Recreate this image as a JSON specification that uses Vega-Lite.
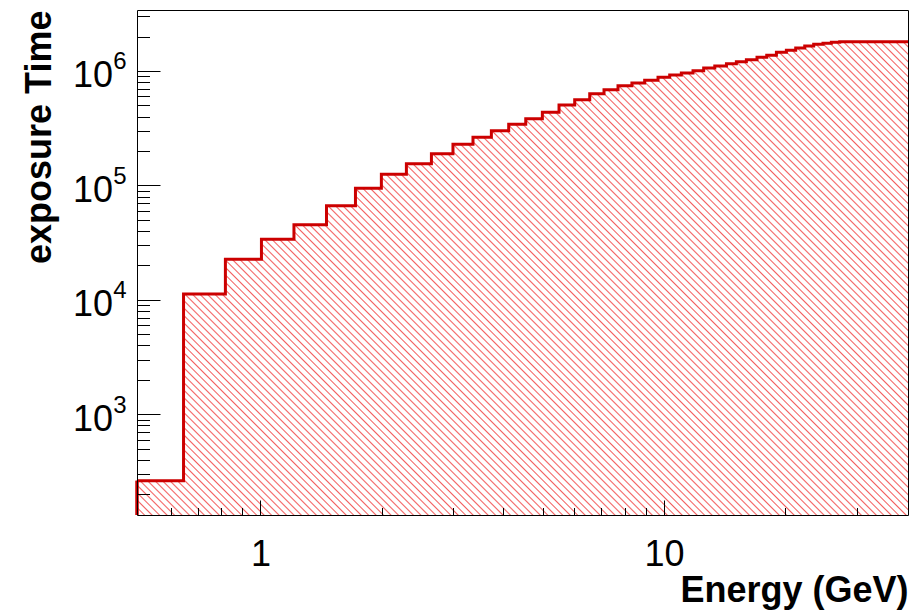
{
"$schema":"https://vega.github.io/schema/vega-lite/v6.json",
"width":771,"height":505,
"autosize":"none",
"padding":{"left":137,"top":10,"right":10,"bottom":96},
"background":"white",
"config":{"view":{"stroke":null},"axis":{"grid":false,"domain":false,"domainColor":"#000000","domainWidth":1,"tickColor":"#000000","tickWidth":1,"labelColor":"#000000","titleColor":"#000000","labelFont":"Liberation Sans","titleFont":"Liberation Sans","labelFlush":false,"labelOverlap":false,"labelBound":false,"zindex":1}},
"data":{"values":[
{"lo":0.4946,"hi":0.645,"v":262.9},
{"lo":0.645,"hi":0.819,"v":11250},
{"lo":0.819,"hi":1.006,"v":22620},
{"lo":1.006,"hi":1.211,"v":33830},
{"lo":1.211,"hi":1.458,"v":45370},
{"lo":1.458,"hi":1.72,"v":66520},
{"lo":1.72,"hi":1.994,"v":94390},
{"lo":1.994,"hi":2.3,"v":125130},
{"lo":2.3,"hi":2.653,"v":154850},
{"lo":2.653,"hi":3.0,"v":189370},
{"lo":3.0,"hi":3.363,"v":228800},
{"lo":3.363,"hi":3.735,"v":263400},
{"lo":3.735,"hi":4.123,"v":300900},
{"lo":4.123,"hi":4.544,"v":342100},
{"lo":4.544,"hi":4.996,"v":383100},
{"lo":4.996,"hi":5.494,"v":435600},
{"lo":5.494,"hi":6.008,"v":504700},
{"lo":6.008,"hi":6.546,"v":561500},
{"lo":6.546,"hi":7.102,"v":633400},
{"lo":7.102,"hi":7.692,"v":686500},
{"lo":7.692,"hi":8.327,"v":743900},
{"lo":8.327,"hi":8.956,"v":785700},
{"lo":8.956,"hi":9.664,"v":829100},
{"lo":9.664,"hi":10.33,"v":881000},
{"lo":10.33,"hi":11.04,"v":922600},
{"lo":11.04,"hi":11.8,"v":960500},
{"lo":11.8,"hi":12.54,"v":1006000},
{"lo":12.54,"hi":13.36,"v":1062000},
{"lo":13.36,"hi":14.28,"v":1106000},
{"lo":14.28,"hi":15.11,"v":1158000},
{"lo":15.11,"hi":16.0,"v":1206000},
{"lo":16.0,"hi":17.0,"v":1255000},
{"lo":17.0,"hi":17.97,"v":1317000},
{"lo":17.97,"hi":18.99,"v":1372000},
{"lo":18.99,"hi":20.1,"v":1457000},
{"lo":20.1,"hi":21.2,"v":1517000},
{"lo":21.2,"hi":22.32,"v":1589000},
{"lo":22.32,"hi":23.49,"v":1654000},
{"lo":23.49,"hi":24.77,"v":1711000},
{"lo":24.77,"hi":25.98,"v":1746000},
{"lo":25.98,"hi":27.25,"v":1781000},
{"lo":27.25,"hi":40.23,"v":1803000}
]},
"resolve":{"axis":{"x":"independent","y":"independent"}},
"layer":[
{
"transform":[{"fold":["lo","hi"],"as":["edge","E"]}],
"mark":{"type":"area","clip":true,"opacity":1,"fill":{"gradient":"linear","x1":0,"y1":1,"x2":1.17213,"y2":0.28042,"stops":[
{"offset":0,"color":"#fff"},
{"offset":0.0048,"color":"#fff"},{"offset":0.006,"color":"#f36060"},{"offset":0.0072,"color":"#fff"},
{"offset":0.0108,"color":"#fff"},{"offset":0.012,"color":"#f36060"},{"offset":0.0132,"color":"#fff"},
{"offset":0.0168,"color":"#fff"},{"offset":0.018,"color":"#f36060"},{"offset":0.0192,"color":"#fff"},
{"offset":0.0228,"color":"#fff"},{"offset":0.024,"color":"#f36060"},{"offset":0.0252,"color":"#fff"},
{"offset":0.0288,"color":"#fff"},{"offset":0.03,"color":"#f36060"},{"offset":0.0312,"color":"#fff"},
{"offset":0.0348,"color":"#fff"},{"offset":0.036,"color":"#f36060"},{"offset":0.0372,"color":"#fff"},
{"offset":0.0408,"color":"#fff"},{"offset":0.042,"color":"#f36060"},{"offset":0.0432,"color":"#fff"},
{"offset":0.0468,"color":"#fff"},{"offset":0.048,"color":"#f36060"},{"offset":0.0492,"color":"#fff"},
{"offset":0.0528,"color":"#fff"},{"offset":0.054,"color":"#f36060"},{"offset":0.0552,"color":"#fff"},
{"offset":0.0588,"color":"#fff"},{"offset":0.06,"color":"#f36060"},{"offset":0.0612,"color":"#fff"},
{"offset":0.0648,"color":"#fff"},{"offset":0.066,"color":"#f36060"},{"offset":0.0672,"color":"#fff"},
{"offset":0.0708,"color":"#fff"},{"offset":0.072,"color":"#f36060"},{"offset":0.0732,"color":"#fff"},
{"offset":0.0768,"color":"#fff"},{"offset":0.078,"color":"#f36060"},{"offset":0.0792,"color":"#fff"},
{"offset":0.0828,"color":"#fff"},{"offset":0.084,"color":"#f36060"},{"offset":0.0852,"color":"#fff"},
{"offset":0.0888,"color":"#fff"},{"offset":0.09,"color":"#f36060"},{"offset":0.0912,"color":"#fff"},
{"offset":0.0948,"color":"#fff"},{"offset":0.096,"color":"#f36060"},{"offset":0.0972,"color":"#fff"},
{"offset":0.1008,"color":"#fff"},{"offset":0.102,"color":"#f36060"},{"offset":0.1032,"color":"#fff"},
{"offset":0.1068,"color":"#fff"},{"offset":0.108,"color":"#f36060"},{"offset":0.1092,"color":"#fff"},
{"offset":0.1128,"color":"#fff"},{"offset":0.114,"color":"#f36060"},{"offset":0.1152,"color":"#fff"},
{"offset":0.1188,"color":"#fff"},{"offset":0.12,"color":"#f36060"},{"offset":0.1212,"color":"#fff"},
{"offset":0.1248,"color":"#fff"},{"offset":0.126,"color":"#f36060"},{"offset":0.1272,"color":"#fff"},
{"offset":0.1308,"color":"#fff"},{"offset":0.132,"color":"#f36060"},{"offset":0.1332,"color":"#fff"},
{"offset":0.1368,"color":"#fff"},{"offset":0.138,"color":"#f36060"},{"offset":0.1392,"color":"#fff"},
{"offset":0.1428,"color":"#fff"},{"offset":0.144,"color":"#f36060"},{"offset":0.1452,"color":"#fff"},
{"offset":0.1488,"color":"#fff"},{"offset":0.15,"color":"#f36060"},{"offset":0.1512,"color":"#fff"},
{"offset":0.1548,"color":"#fff"},{"offset":0.156,"color":"#f36060"},{"offset":0.1572,"color":"#fff"},
{"offset":0.1608,"color":"#fff"},{"offset":0.162,"color":"#f36060"},{"offset":0.1632,"color":"#fff"},
{"offset":0.1668,"color":"#fff"},{"offset":0.168,"color":"#f36060"},{"offset":0.1692,"color":"#fff"},
{"offset":0.1728,"color":"#fff"},{"offset":0.174,"color":"#f36060"},{"offset":0.1752,"color":"#fff"},
{"offset":0.1788,"color":"#fff"},{"offset":0.18,"color":"#f36060"},{"offset":0.1812,"color":"#fff"},
{"offset":0.1848,"color":"#fff"},{"offset":0.186,"color":"#f36060"},{"offset":0.1872,"color":"#fff"},
{"offset":0.1908,"color":"#fff"},{"offset":0.192,"color":"#f36060"},{"offset":0.1932,"color":"#fff"},
{"offset":0.1968,"color":"#fff"},{"offset":0.198,"color":"#f36060"},{"offset":0.1992,"color":"#fff"},
{"offset":0.2028,"color":"#fff"},{"offset":0.204,"color":"#f36060"},{"offset":0.2052,"color":"#fff"},
{"offset":0.2088,"color":"#fff"},{"offset":0.21,"color":"#f36060"},{"offset":0.2112,"color":"#fff"},
{"offset":0.2148,"color":"#fff"},{"offset":0.216,"color":"#f36060"},{"offset":0.2172,"color":"#fff"},
{"offset":0.2208,"color":"#fff"},{"offset":0.222,"color":"#f36060"},{"offset":0.2232,"color":"#fff"},
{"offset":0.2268,"color":"#fff"},{"offset":0.228,"color":"#f36060"},{"offset":0.2292,"color":"#fff"},
{"offset":0.2328,"color":"#fff"},{"offset":0.234,"color":"#f36060"},{"offset":0.2352,"color":"#fff"},
{"offset":0.2388,"color":"#fff"},{"offset":0.24,"color":"#f36060"},{"offset":0.2412,"color":"#fff"},
{"offset":0.2448,"color":"#fff"},{"offset":0.246,"color":"#f36060"},{"offset":0.2472,"color":"#fff"},
{"offset":0.2508,"color":"#fff"},{"offset":0.252,"color":"#f36060"},{"offset":0.2532,"color":"#fff"},
{"offset":0.2568,"color":"#fff"},{"offset":0.258,"color":"#f36060"},{"offset":0.2592,"color":"#fff"},
{"offset":0.2628,"color":"#fff"},{"offset":0.264,"color":"#f36060"},{"offset":0.2652,"color":"#fff"},
{"offset":0.2688,"color":"#fff"},{"offset":0.27,"color":"#f36060"},{"offset":0.2712,"color":"#fff"},
{"offset":0.2748,"color":"#fff"},{"offset":0.276,"color":"#f36060"},{"offset":0.2772,"color":"#fff"},
{"offset":0.2808,"color":"#fff"},{"offset":0.282,"color":"#f36060"},{"offset":0.2832,"color":"#fff"},
{"offset":0.2868,"color":"#fff"},{"offset":0.288,"color":"#f36060"},{"offset":0.2892,"color":"#fff"},
{"offset":0.2928,"color":"#fff"},{"offset":0.294,"color":"#f36060"},{"offset":0.2952,"color":"#fff"},
{"offset":0.2988,"color":"#fff"},{"offset":0.3,"color":"#f36060"},{"offset":0.3012,"color":"#fff"},
{"offset":0.3048,"color":"#fff"},{"offset":0.306,"color":"#f36060"},{"offset":0.3072,"color":"#fff"},
{"offset":0.3108,"color":"#fff"},{"offset":0.312,"color":"#f36060"},{"offset":0.3132,"color":"#fff"},
{"offset":0.3168,"color":"#fff"},{"offset":0.318,"color":"#f36060"},{"offset":0.3192,"color":"#fff"},
{"offset":0.3228,"color":"#fff"},{"offset":0.324,"color":"#f36060"},{"offset":0.3252,"color":"#fff"},
{"offset":0.3288,"color":"#fff"},{"offset":0.33,"color":"#f36060"},{"offset":0.3312,"color":"#fff"},
{"offset":0.3348,"color":"#fff"},{"offset":0.336,"color":"#f36060"},{"offset":0.3372,"color":"#fff"},
{"offset":0.3408,"color":"#fff"},{"offset":0.342,"color":"#f36060"},{"offset":0.3432,"color":"#fff"},
{"offset":0.3468,"color":"#fff"},{"offset":0.348,"color":"#f36060"},{"offset":0.3492,"color":"#fff"},
{"offset":0.3528,"color":"#fff"},{"offset":0.354,"color":"#f36060"},{"offset":0.3552,"color":"#fff"},
{"offset":0.3588,"color":"#fff"},{"offset":0.36,"color":"#f36060"},{"offset":0.3612,"color":"#fff"},
{"offset":0.3648,"color":"#fff"},{"offset":0.366,"color":"#f36060"},{"offset":0.3672,"color":"#fff"},
{"offset":0.3708,"color":"#fff"},{"offset":0.372,"color":"#f36060"},{"offset":0.3732,"color":"#fff"},
{"offset":0.3768,"color":"#fff"},{"offset":0.378,"color":"#f36060"},{"offset":0.3792,"color":"#fff"},
{"offset":0.3828,"color":"#fff"},{"offset":0.384,"color":"#f36060"},{"offset":0.3852,"color":"#fff"},
{"offset":0.3888,"color":"#fff"},{"offset":0.39,"color":"#f36060"},{"offset":0.3912,"color":"#fff"},
{"offset":0.3948,"color":"#fff"},{"offset":0.396,"color":"#f36060"},{"offset":0.3972,"color":"#fff"},
{"offset":0.4008,"color":"#fff"},{"offset":0.402,"color":"#f36060"},{"offset":0.4032,"color":"#fff"},
{"offset":0.4068,"color":"#fff"},{"offset":0.408,"color":"#f36060"},{"offset":0.4092,"color":"#fff"},
{"offset":0.4128,"color":"#fff"},{"offset":0.414,"color":"#f36060"},{"offset":0.4152,"color":"#fff"},
{"offset":0.4188,"color":"#fff"},{"offset":0.42,"color":"#f36060"},{"offset":0.4212,"color":"#fff"},
{"offset":0.4248,"color":"#fff"},{"offset":0.426,"color":"#f36060"},{"offset":0.4272,"color":"#fff"},
{"offset":0.4308,"color":"#fff"},{"offset":0.432,"color":"#f36060"},{"offset":0.4332,"color":"#fff"},
{"offset":0.4368,"color":"#fff"},{"offset":0.438,"color":"#f36060"},{"offset":0.4392,"color":"#fff"},
{"offset":0.4428,"color":"#fff"},{"offset":0.444,"color":"#f36060"},{"offset":0.4452,"color":"#fff"},
{"offset":0.4488,"color":"#fff"},{"offset":0.45,"color":"#f36060"},{"offset":0.4512,"color":"#fff"},
{"offset":0.4548,"color":"#fff"},{"offset":0.456,"color":"#f36060"},{"offset":0.4572,"color":"#fff"},
{"offset":0.4608,"color":"#fff"},{"offset":0.462,"color":"#f36060"},{"offset":0.4632,"color":"#fff"},
{"offset":0.4668,"color":"#fff"},{"offset":0.468,"color":"#f36060"},{"offset":0.4692,"color":"#fff"},
{"offset":0.4728,"color":"#fff"},{"offset":0.474,"color":"#f36060"},{"offset":0.4752,"color":"#fff"},
{"offset":0.4788,"color":"#fff"},{"offset":0.48,"color":"#f36060"},{"offset":0.4812,"color":"#fff"},
{"offset":0.4848,"color":"#fff"},{"offset":0.486,"color":"#f36060"},{"offset":0.4872,"color":"#fff"},
{"offset":0.4908,"color":"#fff"},{"offset":0.492,"color":"#f36060"},{"offset":0.4932,"color":"#fff"},
{"offset":0.4968,"color":"#fff"},{"offset":0.498,"color":"#f36060"},{"offset":0.4992,"color":"#fff"},
{"offset":0.5028,"color":"#fff"},{"offset":0.504,"color":"#f36060"},{"offset":0.5052,"color":"#fff"},
{"offset":0.5088,"color":"#fff"},{"offset":0.51,"color":"#f36060"},{"offset":0.5112,"color":"#fff"},
{"offset":0.5148,"color":"#fff"},{"offset":0.516,"color":"#f36060"},{"offset":0.5172,"color":"#fff"},
{"offset":0.5208,"color":"#fff"},{"offset":0.522,"color":"#f36060"},{"offset":0.5232,"color":"#fff"},
{"offset":0.5268,"color":"#fff"},{"offset":0.528,"color":"#f36060"},{"offset":0.5292,"color":"#fff"},
{"offset":0.5328,"color":"#fff"},{"offset":0.534,"color":"#f36060"},{"offset":0.5352,"color":"#fff"},
{"offset":0.5388,"color":"#fff"},{"offset":0.54,"color":"#f36060"},{"offset":0.5412,"color":"#fff"},
{"offset":0.5448,"color":"#fff"},{"offset":0.546,"color":"#f36060"},{"offset":0.5472,"color":"#fff"},
{"offset":0.5508,"color":"#fff"},{"offset":0.552,"color":"#f36060"},{"offset":0.5532,"color":"#fff"},
{"offset":0.5568,"color":"#fff"},{"offset":0.558,"color":"#f36060"},{"offset":0.5592,"color":"#fff"},
{"offset":0.5628,"color":"#fff"},{"offset":0.564,"color":"#f36060"},{"offset":0.5652,"color":"#fff"},
{"offset":0.5688,"color":"#fff"},{"offset":0.57,"color":"#f36060"},{"offset":0.5712,"color":"#fff"},
{"offset":0.5748,"color":"#fff"},{"offset":0.576,"color":"#f36060"},{"offset":0.5772,"color":"#fff"},
{"offset":0.5808,"color":"#fff"},{"offset":0.582,"color":"#f36060"},{"offset":0.5832,"color":"#fff"},
{"offset":0.5868,"color":"#fff"},{"offset":0.588,"color":"#f36060"},{"offset":0.5892,"color":"#fff"},
{"offset":0.5928,"color":"#fff"},{"offset":0.594,"color":"#f36060"},{"offset":0.5952,"color":"#fff"},
{"offset":0.5988,"color":"#fff"},{"offset":0.6,"color":"#f36060"},{"offset":0.6012,"color":"#fff"},
{"offset":0.6048,"color":"#fff"},{"offset":0.606,"color":"#f36060"},{"offset":0.6072,"color":"#fff"},
{"offset":0.6108,"color":"#fff"},{"offset":0.612,"color":"#f36060"},{"offset":0.6132,"color":"#fff"},
{"offset":0.6168,"color":"#fff"},{"offset":0.618,"color":"#f36060"},{"offset":0.6192,"color":"#fff"},
{"offset":0.6228,"color":"#fff"},{"offset":0.624,"color":"#f36060"},{"offset":0.6252,"color":"#fff"},
{"offset":0.6288,"color":"#fff"},{"offset":0.63,"color":"#f36060"},{"offset":0.6312,"color":"#fff"},
{"offset":0.6348,"color":"#fff"},{"offset":0.636,"color":"#f36060"},{"offset":0.6372,"color":"#fff"},
{"offset":0.6408,"color":"#fff"},{"offset":0.642,"color":"#f36060"},{"offset":0.6432,"color":"#fff"},
{"offset":0.6468,"color":"#fff"},{"offset":0.648,"color":"#f36060"},{"offset":0.6492,"color":"#fff"},
{"offset":0.6528,"color":"#fff"},{"offset":0.654,"color":"#f36060"},{"offset":0.6552,"color":"#fff"},
{"offset":0.6588,"color":"#fff"},{"offset":0.66,"color":"#f36060"},{"offset":0.6612,"color":"#fff"},
{"offset":0.6648,"color":"#fff"},{"offset":0.666,"color":"#f36060"},{"offset":0.6672,"color":"#fff"},
{"offset":0.6708,"color":"#fff"},{"offset":0.672,"color":"#f36060"},{"offset":0.6732,"color":"#fff"},
{"offset":0.6768,"color":"#fff"},{"offset":0.678,"color":"#f36060"},{"offset":0.6792,"color":"#fff"},
{"offset":0.6828,"color":"#fff"},{"offset":0.684,"color":"#f36060"},{"offset":0.6852,"color":"#fff"},
{"offset":0.6888,"color":"#fff"},{"offset":0.69,"color":"#f36060"},{"offset":0.6912,"color":"#fff"},
{"offset":0.6948,"color":"#fff"},{"offset":0.696,"color":"#f36060"},{"offset":0.6972,"color":"#fff"},
{"offset":0.7008,"color":"#fff"},{"offset":0.702,"color":"#f36060"},{"offset":0.7032,"color":"#fff"},
{"offset":0.7068,"color":"#fff"},{"offset":0.708,"color":"#f36060"},{"offset":0.7092,"color":"#fff"},
{"offset":0.7128,"color":"#fff"},{"offset":0.714,"color":"#f36060"},{"offset":0.7152,"color":"#fff"},
{"offset":0.7188,"color":"#fff"},{"offset":0.72,"color":"#f36060"},{"offset":0.7212,"color":"#fff"},
{"offset":0.7248,"color":"#fff"},{"offset":0.726,"color":"#f36060"},{"offset":0.7272,"color":"#fff"},
{"offset":0.7308,"color":"#fff"},{"offset":0.732,"color":"#f36060"},{"offset":0.7332,"color":"#fff"},
{"offset":0.7368,"color":"#fff"},{"offset":0.738,"color":"#f36060"},{"offset":0.7392,"color":"#fff"},
{"offset":0.7428,"color":"#fff"},{"offset":0.744,"color":"#f36060"},{"offset":0.7452,"color":"#fff"},
{"offset":0.7488,"color":"#fff"},{"offset":0.75,"color":"#f36060"},{"offset":0.7512,"color":"#fff"},
{"offset":0.7548,"color":"#fff"},{"offset":0.756,"color":"#f36060"},{"offset":0.7572,"color":"#fff"},
{"offset":0.7608,"color":"#fff"},{"offset":0.762,"color":"#f36060"},{"offset":0.7632,"color":"#fff"},
{"offset":0.7668,"color":"#fff"},{"offset":0.768,"color":"#f36060"},{"offset":0.7692,"color":"#fff"},
{"offset":0.7728,"color":"#fff"},{"offset":0.774,"color":"#f36060"},{"offset":0.7752,"color":"#fff"},
{"offset":0.7788,"color":"#fff"},{"offset":0.78,"color":"#f36060"},{"offset":0.7812,"color":"#fff"},
{"offset":0.7848,"color":"#fff"},{"offset":0.786,"color":"#f36060"},{"offset":0.7872,"color":"#fff"},
{"offset":0.7908,"color":"#fff"},{"offset":0.792,"color":"#f36060"},{"offset":0.7932,"color":"#fff"},
{"offset":0.7968,"color":"#fff"},{"offset":0.798,"color":"#f36060"},{"offset":0.7992,"color":"#fff"},
{"offset":0.8028,"color":"#fff"},{"offset":0.804,"color":"#f36060"},{"offset":0.8052,"color":"#fff"},
{"offset":0.8088,"color":"#fff"},{"offset":0.81,"color":"#f36060"},{"offset":0.8112,"color":"#fff"},
{"offset":0.8148,"color":"#fff"},{"offset":0.816,"color":"#f36060"},{"offset":0.8172,"color":"#fff"},
{"offset":0.8208,"color":"#fff"},{"offset":0.822,"color":"#f36060"},{"offset":0.8232,"color":"#fff"},
{"offset":0.8268,"color":"#fff"},{"offset":0.828,"color":"#f36060"},{"offset":0.8292,"color":"#fff"},
{"offset":0.8328,"color":"#fff"},{"offset":0.834,"color":"#f36060"},{"offset":0.8352,"color":"#fff"},
{"offset":0.8388,"color":"#fff"},{"offset":0.84,"color":"#f36060"},{"offset":0.8412,"color":"#fff"},
{"offset":0.8448,"color":"#fff"},{"offset":0.846,"color":"#f36060"},{"offset":0.8472,"color":"#fff"},
{"offset":0.8508,"color":"#fff"},{"offset":0.852,"color":"#f36060"},{"offset":0.8532,"color":"#fff"},
{"offset":0.8568,"color":"#fff"},{"offset":0.858,"color":"#f36060"},{"offset":0.8592,"color":"#fff"},
{"offset":0.8628,"color":"#fff"},{"offset":0.864,"color":"#f36060"},{"offset":0.8652,"color":"#fff"},
{"offset":0.8688,"color":"#fff"},{"offset":0.87,"color":"#f36060"},{"offset":0.8712,"color":"#fff"},
{"offset":0.8748,"color":"#fff"},{"offset":0.876,"color":"#f36060"},{"offset":0.8772,"color":"#fff"},
{"offset":0.8808,"color":"#fff"},{"offset":0.882,"color":"#f36060"},{"offset":0.8832,"color":"#fff"},
{"offset":0.8868,"color":"#fff"},{"offset":0.888,"color":"#f36060"},{"offset":0.8892,"color":"#fff"},
{"offset":0.8928,"color":"#fff"},{"offset":0.894,"color":"#f36060"},{"offset":0.8952,"color":"#fff"},
{"offset":0.8988,"color":"#fff"},{"offset":0.9,"color":"#f36060"},{"offset":0.9012,"color":"#fff"},
{"offset":0.9048,"color":"#fff"},{"offset":0.906,"color":"#f36060"},{"offset":0.9072,"color":"#fff"},
{"offset":0.9108,"color":"#fff"},{"offset":0.912,"color":"#f36060"},{"offset":0.9132,"color":"#fff"},
{"offset":0.9168,"color":"#fff"},{"offset":0.918,"color":"#f36060"},{"offset":0.9192,"color":"#fff"},
{"offset":0.9228,"color":"#fff"},{"offset":0.924,"color":"#f36060"},{"offset":0.9252,"color":"#fff"},
{"offset":0.9288,"color":"#fff"},{"offset":0.93,"color":"#f36060"},{"offset":0.9312,"color":"#fff"},
{"offset":0.9348,"color":"#fff"},{"offset":0.936,"color":"#f36060"},{"offset":0.9372,"color":"#fff"},
{"offset":0.9408,"color":"#fff"},{"offset":0.942,"color":"#f36060"},{"offset":0.9432,"color":"#fff"},
{"offset":0.9468,"color":"#fff"},{"offset":0.948,"color":"#f36060"},{"offset":0.9492,"color":"#fff"},
{"offset":0.9528,"color":"#fff"},{"offset":0.954,"color":"#f36060"},{"offset":0.9552,"color":"#fff"},
{"offset":0.9588,"color":"#fff"},{"offset":0.96,"color":"#f36060"},{"offset":0.9612,"color":"#fff"},
{"offset":0.9648,"color":"#fff"},{"offset":0.966,"color":"#f36060"},{"offset":0.9672,"color":"#fff"},
{"offset":0.9708,"color":"#fff"},{"offset":0.972,"color":"#f36060"},{"offset":0.9732,"color":"#fff"},
{"offset":0.9768,"color":"#fff"},{"offset":0.978,"color":"#f36060"},{"offset":0.9792,"color":"#fff"},
{"offset":0.9828,"color":"#fff"},{"offset":0.984,"color":"#f36060"},{"offset":0.9852,"color":"#fff"},
{"offset":0.9888,"color":"#fff"},{"offset":0.99,"color":"#f36060"},{"offset":0.9912,"color":"#fff"},
{"offset":0.9948,"color":"#fff"},{"offset":0.996,"color":"#f36060"},{"offset":0.9972,"color":"#fff"},
{"offset":1,"color":"#fff"}
]}},
"encoding":{
"x":{"field":"E","type":"quantitative","scale":{"type":"log","domain":[0.4946,40.23],"nice":false},
"axis":{"orient":"bottom","values":[1,10],"format":"d","domain":true,"ticks":true,"tickSize":-15,"labelFontSize":36,"labelBaseline":"alphabetic","labelAlign":"center","labelPadding":65,"title":"Energy (GeV)","titleFontSize":36,"titleFontWeight":"bold","titleAlign":"right","titleAnchor":"end","titleBaseline":"alphabetic","titleX":771,"titleY":86,"zindex":1}},
"y":{"field":"v","type":"quantitative","stack":null,"scale":{"type":"log","domain":[131.8,3412000],"nice":false},
"axis":{"orient":"left","values":[1000,10000,100000,1000000],"labelExpr":"'10'","domain":true,"ticks":true,"tickSize":-23,"labelFontSize":36,"labelAlign":"right","labelBaseline":"alphabetic","labelOffset":16,"labelPadding":47.5,"title":"exposure Time","titleFontSize":36,"titleFontWeight":"bold","titleAngle":270,"titleAlign":"right","titleAnchor":"end","titleBaseline":"alphabetic","titleX":-87,"titleY":0,"zindex":1}}
}
},
{
"transform":[{"fold":["lo","hi"],"as":["edge","E"]}],
"mark":{"type":"line","color":"#cc0000","strokeWidth":3,"clip":true,"strokeJoin":"miter"},
"encoding":{
"x":{"field":"E","type":"quantitative","axis":{"orient":"bottom","values":[0.6,0.7,0.8,0.9,2,3,4,5,6,7,8,9,20,30],"labels":false,"ticks":true,"tickSize":-7.5,"domain":false,"title":null,"zindex":1}},
"y":{"field":"v","type":"quantitative","axis":{"orient":"left","values":[200,300,400,500,600,700,800,900,2000,3000,4000,5000,6000,7000,8000,9000,20000,30000,40000,50000,60000,70000,80000,90000,200000,300000,400000,500000,600000,700000,800000,900000,2000000,3000000],"labels":false,"ticks":true,"tickSize":-12.5,"domain":false,"title":null,"zindex":1}},
"order":[{"field":"E","type":"quantitative"},{"field":"edge","type":"nominal"}]
}
},
{
"transform":[{"filter":"datum.lo < 0.5"}],
"mark":{"type":"rule","color":"#cc0000","strokeWidth":3},
"encoding":{
"x":{"field":"lo","type":"quantitative","axis":{"orient":"top","domain":true,"ticks":false,"labels":false,"title":null,"zindex":1}},
"y":{"field":"v","type":"quantitative","axis":{"orient":"left","values":[1000,10000,100000,1000000],"labelExpr":"datum.value < 5000 ? '3' : datum.value < 50000 ? '4' : datum.value < 500000 ? '5' : '6'","domain":false,"ticks":false,"labelFontSize":24,"labelAlign":"right","labelBaseline":"alphabetic","labelOffset":-2,"labelPadding":11,"title":null,"zindex":1}},
"y2":{"datum":131.8}
}
},
{
"transform":[{"filter":"datum.lo < 0.5"}],
"mark":{"type":"rule","color":"#cc0000","strokeWidth":3},
"encoding":{
"x":{"field":"lo","type":"quantitative","axis":null},
"y":{"field":"v","type":"quantitative","axis":{"orient":"right","domain":true,"ticks":false,"labels":false,"title":null,"zindex":1}},
"y2":{"datum":131.8}
}
}
]
}
